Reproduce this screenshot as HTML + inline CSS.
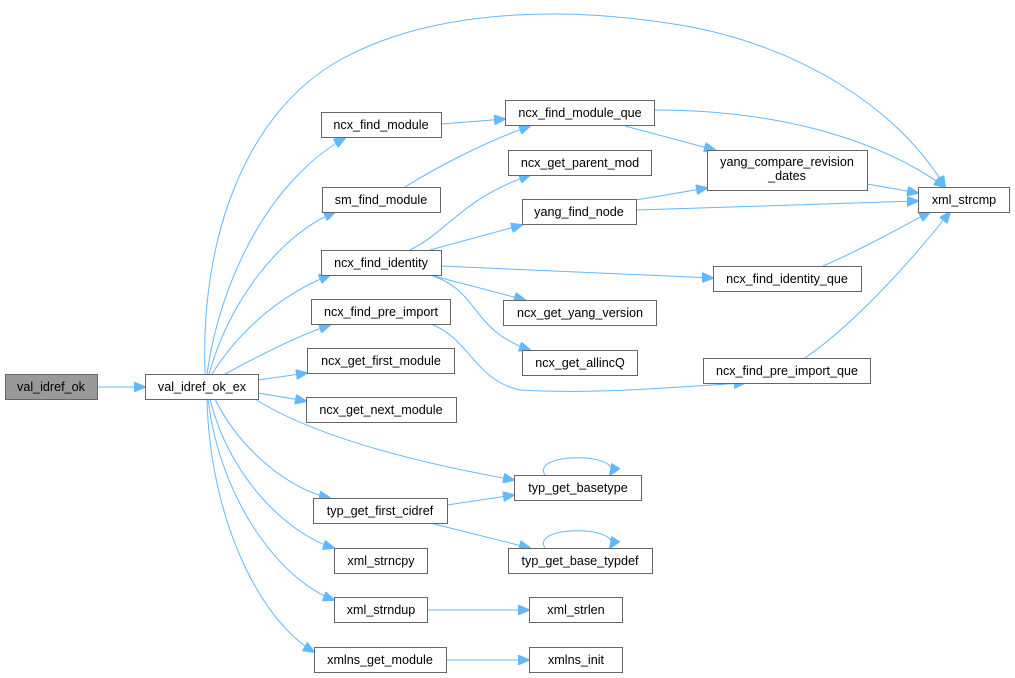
<!DOCTYPE html>
<html><head><meta charset="utf-8"><style>
html,body{margin:0;padding:0;background:#fff;width:1015px;height:678px;overflow:hidden}
svg{display:block}
text{font-family:"Liberation Sans",Arial,sans-serif;font-size:12.6px;fill:#000}
.n{fill:#fff;stroke:#666;stroke-width:1}
.e{fill:none;stroke:#63b8ff;stroke-width:1}
</style></head><body>
<svg width="1015" height="678" viewBox="0 0 1015 678">
<defs><marker id="a" markerWidth="12" markerHeight="10" refX="11" refY="5" orient="auto" markerUnits="userSpaceOnUse"><path d="M0,0 L12,5 L0,10 z" fill="#63b8ff" stroke="#63b8ff"/></marker></defs>
<g class="e" marker-end="url(#a)">
<path d="M97,387 L145,387"/>
<path d="M205,374 C200,230 250,110 340,60 C430,10 560,5 680,25 C800,45 900,110 945,187"/>
<path d="M207,374 C220,280 270,180 345,138"/>
<path d="M209,374 C230,300 280,235 335,212"/>
<path d="M212,374 C240,330 280,295 330,275"/>
<path d="M225,374 C260,355 300,335 330,325"/>
<path d="M258,380 L307,373"/>
<path d="M258,393 L306,401"/>
<path d="M255,399 C320,440 430,465 514,480"/>
<path d="M215,399 C240,450 290,490 330,498"/>
<path d="M210,399 C230,480 290,535 334,548"/>
<path d="M208,399 C220,500 280,580 334,600"/>
<path d="M207,399 C210,520 260,620 314,652"/>
<path d="M441,124 L505,119"/>
<path d="M405,187 C440,165 490,140 530,126"/>
<path d="M654,110 C780,110 880,140 945,187"/>
<path d="M625,126 L715,150"/>
<path d="M410,250 C450,230 460,200 530,175"/>
<path d="M430,250 L522,225"/>
<path d="M441,266 L713,278"/>
<path d="M430,275 L525,300"/>
<path d="M430,275 C480,290 470,330 530,350"/>
<path d="M433,325 C470,340 475,380 520,390 C600,395 700,385 745,383"/>
<path d="M636,200 L707,188"/>
<path d="M636,210 L918,201"/>
<path d="M867,184 L918,193"/>
<path d="M823,266 C860,250 900,228 930,212"/>
<path d="M805,358 C860,320 920,250 950,212"/>
<path d="M447,505 L514,495"/>
<path d="M430,523 L530,548"/>
<path d="M545,475 C530,452 625,452 610,475"/>
<path d="M545,548 C530,525 625,525 610,548"/>
<path d="M427,610 L529,610"/>
<path d="M446,660 L529,660"/>
</g>
<rect x="5.5" y="374.5" width="92" height="25" fill="#999" stroke="#666"/><text x="51" y="391" text-anchor="middle">val_idref_ok</text>
<g>
<rect class="n" x="145.5" y="374.5" width="113" height="25"/><text x="202" y="391" text-anchor="middle">val_idref_ok_ex</text>
<rect class="n" x="321.5" y="112.5" width="120" height="25"/><text x="381" y="129" text-anchor="middle">ncx_find_module</text>
<rect class="n" x="322.5" y="187.5" width="118" height="25"/><text x="381" y="204" text-anchor="middle">sm_find_module</text>
<rect class="n" x="321.5" y="250.5" width="120" height="25"/><text x="381" y="267" text-anchor="middle">ncx_find_identity</text>
<rect class="n" x="311.5" y="299.5" width="139" height="25"/><text x="381" y="316" text-anchor="middle">ncx_find_pre_import</text>
<rect class="n" x="307.5" y="348.5" width="147" height="25"/><text x="381" y="365" text-anchor="middle">ncx_get_first_module</text>
<rect class="n" x="306.5" y="397.5" width="150" height="25"/><text x="381" y="414" text-anchor="middle">ncx_get_next_module</text>
<rect class="n" x="505.5" y="100.5" width="149" height="25"/><text x="580" y="117" text-anchor="middle">ncx_find_module_que</text>
<rect class="n" x="508.5" y="150.5" width="143" height="25"/><text x="580" y="167" text-anchor="middle">ncx_get_parent_mod</text>
<rect class="n" x="707.5" y="150.5" width="160" height="40"/><text x="787" y="166" text-anchor="middle">yang_compare_revision</text><text x="787" y="180" text-anchor="middle">_dates</text>
<rect class="n" x="918.5" y="187.5" width="91" height="25"/><text x="964" y="204" text-anchor="middle">xml_strcmp</text>
<rect class="n" x="522.5" y="199.5" width="114" height="25"/><text x="579" y="216" text-anchor="middle">yang_find_node</text>
<rect class="n" x="713.5" y="266.5" width="148" height="25"/><text x="787" y="283" text-anchor="middle">ncx_find_identity_que</text>
<rect class="n" x="503.5" y="300.5" width="153" height="25"/><text x="580" y="317" text-anchor="middle">ncx_get_yang_version</text>
<rect class="n" x="522.5" y="350.5" width="115" height="25"/><text x="580" y="367" text-anchor="middle">ncx_get_allincQ</text>
<rect class="n" x="703.5" y="358.5" width="167" height="25"/><text x="787" y="375" text-anchor="middle">ncx_find_pre_import_que</text>
<rect class="n" x="514.5" y="475.5" width="127" height="25"/><text x="578" y="492" text-anchor="middle">typ_get_basetype</text>
<rect class="n" x="313.5" y="498.5" width="134" height="25"/><text x="380" y="515" text-anchor="middle">typ_get_first_cidref</text>
<rect class="n" x="508.5" y="548.5" width="144" height="25"/><text x="580" y="565" text-anchor="middle">typ_get_base_typdef</text>
<rect class="n" x="334.5" y="548.5" width="93" height="25"/><text x="381" y="565" text-anchor="middle">xml_strncpy</text>
<rect class="n" x="334.5" y="597.5" width="93" height="25"/><text x="381" y="614" text-anchor="middle">xml_strndup</text>
<rect class="n" x="529.5" y="597.5" width="93" height="25"/><text x="576" y="614" text-anchor="middle">xml_strlen</text>
<rect class="n" x="314.5" y="647.5" width="132" height="25"/><text x="380" y="664" text-anchor="middle">xmlns_get_module</text>
<rect class="n" x="529.5" y="647.5" width="93" height="25"/><text x="576" y="664" text-anchor="middle">xmlns_init</text>
</g>
</svg>
</body></html>
